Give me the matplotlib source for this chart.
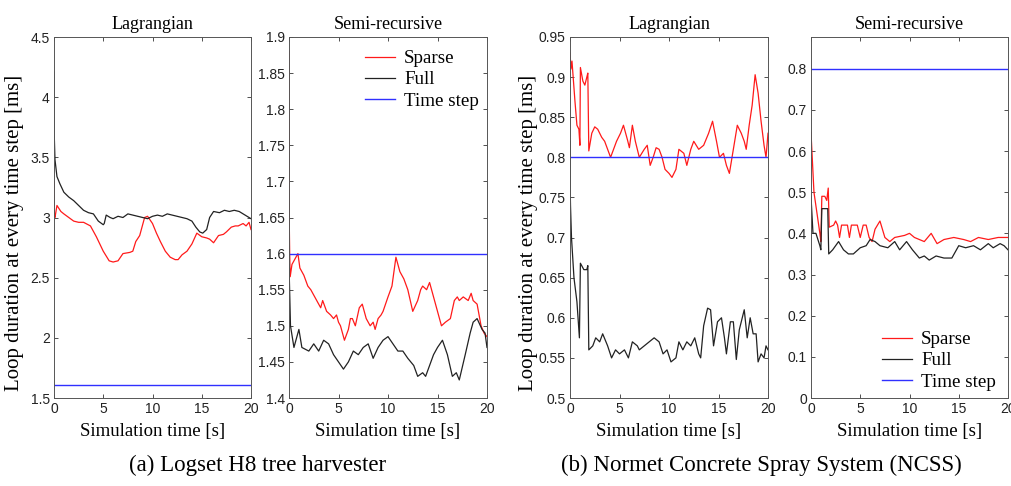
import matplotlib
matplotlib.use("Agg")
import matplotlib.pyplot as plt
import numpy as np

# ---------------- data ----------------
# (a) Logset - Lagrangian
a_lag_full_t = [0, 0.02, 0.1, 0.3, 0.6, 1.0, 1.5, 2.0, 2.5, 3.0, 3.5, 4.0, 4.5, 5.0, 5.1, 5.3, 5.7, 6.0, 6.5,
                7.0, 7.5, 8.0, 8.5, 9.0, 9.5, 10.0, 10.5, 11.0, 11.5, 12.0, 12.5, 13.0, 13.5, 14.0, 14.4, 14.8,
                15.1, 15.5, 15.8, 16.2, 16.8, 17.3, 17.8, 18.3, 18.8, 19.2, 19.6, 20.0]
a_lag_full_y = [4.21, 3.7, 3.48, 3.34, 3.28, 3.21, 3.17, 3.14, 3.10, 3.06, 3.04, 3.03, 2.97, 2.94, 2.95, 3.02,
                3.00, 2.99, 3.01, 3.00, 3.03, 3.02, 3.01, 3.00, 2.99, 3.01, 3.02, 3.01, 3.03, 3.02, 3.01,
                3.00, 2.99, 2.97, 2.92, 2.88, 2.87, 2.90, 3.00, 3.05, 3.04, 3.06, 3.05, 3.06, 3.05, 3.03, 3.01, 2.99]
a_lag_sparse_t = [0, 0.03, 0.1, 0.3, 0.7, 1.0, 1.5, 2.0, 2.5, 3.0, 3.7, 4.3, 5.0, 5.6, 6.0, 6.5, 7.0, 7.7,
                  8.0, 8.3, 8.7, 9.2, 9.5, 10.0, 10.4, 10.8, 11.3, 11.8, 12.3, 12.6, 13.0, 13.5, 14.0, 14.5,
                  15.0, 15.5, 15.8, 16.2, 16.7, 17.2, 17.5, 18.0, 18.4, 18.7, 19.2, 19.5, 19.8, 20.0]
a_lag_sparse_y = [3.30, 3.02, 3.00, 3.10, 3.05, 3.03, 3.00, 2.97, 2.96, 2.96, 2.93, 2.84, 2.72, 2.64, 2.63,
                  2.64, 2.70, 2.71, 2.72, 2.80, 2.85, 3.00, 3.01, 2.95, 2.87, 2.80, 2.72, 2.67, 2.65, 2.65,
                  2.69, 2.72, 2.78, 2.87, 2.84, 2.83, 2.82, 2.79, 2.85, 2.86, 2.88, 2.92, 2.93, 2.93, 2.95,
                  2.93, 2.96, 2.90]
a_lag_step = 1.61

# (a) Logset - Semi-recursive
a_semi_sparse_t = [0, 0.03, 0.07, 0.12, 0.3, 0.5, 0.9, 1.1, 1.5, 1.9, 2.2, 2.6, 3.0, 3.2, 3.4, 3.8, 4.2,
                   4.5, 4.8, 5.0, 5.2, 5.6, 6.0, 6.2, 6.4, 6.7, 7.1, 7.4, 7.8, 8.2, 8.5, 8.7, 9.0, 9.3, 9.5,
                   10.0, 10.4, 10.8, 11.2, 11.6, 12.0, 12.5, 13.0, 13.3, 13.5, 13.9, 14.2, 14.6, 15.0, 15.4,
                   15.8, 16.3, 16.7, 17.0, 17.2, 17.6, 18.1, 18.4, 18.6, 19.0, 19.4, 19.7, 20.0]
a_semi_sparse_y = [1.88, 1.64, 1.60, 1.568, 1.585, 1.59, 1.60, 1.58, 1.57, 1.555, 1.55, 1.54, 1.53, 1.525,
                   1.535, 1.52, 1.515, 1.51, 1.515, 1.505, 1.50, 1.48, 1.495, 1.51, 1.51, 1.50, 1.525, 1.53,
                   1.51, 1.50, 1.505, 1.495, 1.51, 1.515, 1.52, 1.54, 1.555, 1.595, 1.575, 1.565, 1.55,
                   1.52, 1.535, 1.55, 1.555, 1.55, 1.56, 1.54, 1.52, 1.50, 1.505, 1.51, 1.535, 1.54, 1.535,
                   1.54, 1.535, 1.545, 1.535, 1.53, 1.50, 1.49, 1.485]
a_semi_full_t = [0, 0.08, 0.15, 0.5, 1.0, 1.3, 2.0, 2.5, 3.0, 3.5, 4.0, 4.5, 5.0, 5.5, 6.0, 6.5, 7.0, 7.5,
                 8.0, 8.5, 9.0, 9.5, 10.0, 10.5, 11.0, 11.5, 12.0, 12.6, 13.0, 13.5, 13.8, 14.2, 14.6, 15.0,
                 15.5, 16.0, 16.5, 16.9, 17.2, 17.8, 18.3, 18.6, 19.0, 19.5, 19.8, 20.0]
a_semi_full_y = [1.585, 1.54, 1.50, 1.47, 1.495, 1.47, 1.465, 1.475, 1.465, 1.48, 1.475, 1.46, 1.45, 1.44,
                 1.45, 1.465, 1.46, 1.47, 1.475, 1.455, 1.47, 1.48, 1.485, 1.475, 1.465, 1.465, 1.455, 1.445,
                 1.43, 1.435, 1.43, 1.445, 1.46, 1.47, 1.48, 1.46, 1.43, 1.435, 1.425, 1.46, 1.49, 1.505,
                 1.51, 1.495, 1.49, 1.47]
a_semi_step = 1.60

# (b) NCSS - Lagrangian
b_lag_sparse_t = [0, 0.1, 0.2, 0.5, 0.7, 0.9, 1.0, 1.05, 1.3, 1.5, 1.7, 1.8, 1.9, 2.2, 2.5, 2.8, 3.2, 3.5,
                  3.8, 4.1, 4.4, 4.7, 5.1, 5.4, 5.8, 6.0, 6.3, 6.6, 7.0, 7.5, 7.8, 8.1, 8.4, 8.7, 9.0, 9.3,
                  9.6, 10.0, 10.3, 10.7, 11.0, 11.5, 11.8, 12.2, 12.5, 13.0, 13.5, 14.0, 14.4, 14.8, 15.1,
                  15.5, 15.8, 16.1, 16.5, 16.9, 17.3, 17.6, 17.8, 18.1, 18.4, 18.7, 19.0, 19.3, 19.6, 19.8,
                  20.0]
b_lag_sparse_y = [0.93, 0.91, 0.92, 0.87, 0.84, 0.835, 0.815, 0.912, 0.895, 0.89, 0.90, 0.905, 0.808,
                  0.83, 0.838, 0.835, 0.825, 0.82, 0.81, 0.80, 0.81, 0.82, 0.83, 0.84, 0.822, 0.812, 0.84,
                  0.82, 0.80, 0.81, 0.815, 0.79, 0.80, 0.812, 0.81, 0.80, 0.785, 0.78, 0.775, 0.785, 0.81,
                  0.805, 0.79, 0.81, 0.82, 0.81, 0.815, 0.83, 0.845, 0.82, 0.80, 0.805, 0.79, 0.78, 0.81,
                  0.84, 0.83, 0.82, 0.81, 0.84, 0.865, 0.903, 0.88, 0.845, 0.815, 0.80, 0.83]
b_lag_full_t = [0, 0.02, 0.05, 0.15, 0.4, 0.7, 0.95, 1.05, 1.4, 1.7, 1.8, 1.9, 2.3, 2.6, 3.0, 3.3, 3.8,
                4.2, 4.6, 5.0, 5.5, 5.9, 6.3, 6.8, 7.0, 7.5, 8.0, 8.5, 9.0, 9.4, 9.8, 10.2, 10.7, 11.0, 11.4,
                11.8, 12.2, 12.6, 13.0, 13.2, 13.5, 13.9, 14.2, 14.5, 14.9, 15.3, 15.6, 15.8, 16.2, 16.5,
                16.8, 17.1, 17.4, 17.6, 17.9, 18.2, 18.5, 18.8, 19.0, 19.3, 19.6, 19.8, 20.0]
b_lag_full_y = [0.82, 0.76, 0.74, 0.70, 0.65, 0.62, 0.575, 0.668, 0.66, 0.66, 0.665, 0.56, 0.565, 0.575,
                0.57, 0.58, 0.565, 0.55, 0.56, 0.555, 0.56, 0.55, 0.57, 0.565, 0.56, 0.565, 0.57, 0.575,
                0.57, 0.555, 0.56, 0.545, 0.55, 0.57, 0.56, 0.57, 0.565, 0.575, 0.555, 0.55, 0.59, 0.612,
                0.61, 0.565, 0.595, 0.60, 0.575, 0.555, 0.595, 0.595, 0.548, 0.585, 0.60, 0.61, 0.575, 0.60,
                0.58, 0.58, 0.545, 0.555, 0.55, 0.565, 0.56]
b_lag_step = 0.80

# (b) NCSS - Semi-recursive
b_semi_sparse_t = [0, 0.3, 0.6, 0.9, 1.0, 1.1, 1.4, 1.6, 1.75, 1.85, 2.3, 2.5, 2.7, 2.9, 3.1, 3.7, 3.9, 4.1,
                   4.7, 5.0, 5.3, 5.6, 5.9, 6.2, 6.5, 7.0, 7.5, 8.0, 8.5, 9.5, 10.0, 10.5, 11.0, 11.5, 12.2,
                   12.8, 13.5, 14.5, 15.5, 16.2, 17.0, 18.0, 19.0, 20.0]
b_semi_sparse_y = [0.645, 0.50, 0.45, 0.40, 0.38, 0.49, 0.49, 0.48, 0.51, 0.415, 0.42, 0.43, 0.42, 0.39,
                   0.42, 0.42, 0.39, 0.42, 0.42, 0.39, 0.42, 0.42, 0.39, 0.38, 0.41, 0.43, 0.39, 0.38, 0.39,
                   0.395, 0.40, 0.39, 0.385, 0.38, 0.40, 0.375, 0.385, 0.39, 0.385, 0.38, 0.39, 0.385, 0.39,
                   0.39]
b_semi_full_t = [0, 0.2, 0.5, 0.9, 1.0, 1.1, 1.7, 1.8, 2.2, 2.8, 3.3, 3.8, 4.3, 5.0, 5.6, 6.0, 6.5, 7.0,
                 7.8, 8.5, 9.0, 9.7, 10.3, 11.0, 11.5, 12.0, 12.7, 13.5, 14.3, 15.0, 15.7, 16.5, 17.2, 18.0,
                 18.5, 19.2, 19.6, 20.0]
b_semi_full_y = [0.49, 0.40, 0.40, 0.37, 0.36, 0.46, 0.46, 0.35, 0.36, 0.38, 0.36, 0.35, 0.35, 0.365, 0.37,
                 0.385, 0.38, 0.37, 0.365, 0.38, 0.36, 0.38, 0.36, 0.34, 0.345, 0.335, 0.345, 0.34, 0.34,
                 0.37, 0.365, 0.37, 0.36, 0.375, 0.365, 0.375, 0.37, 0.36]
b_semi_step = 0.80

titles = ["Lagrangian", "Semi-recursive", "Lagrangian", "Semi-recursive"]
ylims = [(1.5, 4.5), (1.4, 1.9), (0.5, 0.95), (0.0, 0.877)]
yticks = [np.arange(1.5, 4.51, 0.5), np.arange(1.4, 1.901, 0.05), np.arange(0.5, 0.951, 0.05),
          np.arange(0.0, 0.81, 0.1)]
xticks = [0, 5, 10, 15, 20]
legend_labels = ["Sparse", "Full", "Time step"]
ylabel_text = "Loop duration at every time step [ms]"
xlabel_text = "Simulation time [s]"
captions = ["(a) Logset H8 tree harvester", "(b) Normet Concrete Spray System (NCSS)"]

# ---------------- figure ----------------
serif = ["Liberation Serif", "DejaVu Serif"]
sans = ["Liberation Sans", "DejaVu Sans"]

fig = plt.figure(figsize=(10.11, 4.86), dpi=100)
H = 486.0
W = 1011.0
lefts = [54, 289, 570, 811]
widths = [197, 198, 198, 197]
bottom = (H - 398) / H
height = 361 / H

series = [
    (a_lag_sparse_t, a_lag_sparse_y, a_lag_full_t, a_lag_full_y, a_lag_step),
    (a_semi_sparse_t, a_semi_sparse_y, a_semi_full_t, a_semi_full_y, a_semi_step),
    (b_lag_sparse_t, b_lag_sparse_y, b_lag_full_t, b_lag_full_y, b_lag_step),
    (b_semi_sparse_t, b_semi_sparse_y, b_semi_full_t, b_semi_full_y, b_semi_step),
]

red = "#ff1a1a"
black = "#222222"
blue = "#3030ff"

axes = []
for i in range(4):
    ax = fig.add_axes([lefts[i] / W, bottom, widths[i] / W, height])
    st, sy, ft, fy, step = series[i]
    ax.plot(st, sy, color=red, lw=0.9, label=legend_labels[0])
    ax.plot(ft, fy, color=black, lw=0.9, label=legend_labels[1])
    ax.axhline(step, color=blue, lw=1.0, label=legend_labels[2])
    ax.set_xlim(0, 20)
    ax.set_ylim(*ylims[i])
    ax.set_xticks(xticks)
    ax.set_yticks(yticks[i])
    ax.set_yticklabels([("%g" % round(v, 3)) for v in yticks[i]])
    ax.tick_params(direction="in", top=True, right=True, length=3, width=0.6,
                   labelsize=10, colors="#333333", pad=3)
    for lab in ax.get_xticklabels() + ax.get_yticklabels():
        lab.set_family(sans)
        lab.set_color("#222222")
    for s in ax.spines.values():
        s.set_linewidth(0.7)
        s.set_color("#555555")
    ax.set_title(titles[i], family=serif, fontsize=13, pad=6)
    ax.set_xlabel(xlabel_text, family=serif, fontsize=13.5, labelpad=5)
    axes.append(ax)

for ax in (axes[0], axes[2]):
    ax.set_ylabel(ylabel_text, family=serif, fontsize=15)
axes[0].yaxis.set_label_coords((24 - 54) / 197, 0.457)
axes[2].yaxis.set_label_coords((538 - 570) / 198, 0.457)

leg_kw = dict(frameon=False, prop={"family": serif, "size": 13.7}, handlelength=1.6,
              handletextpad=0.45, labelspacing=0.2, borderaxespad=0.0, borderpad=0.0)
axes[1].legend(loc="upper left", bbox_to_anchor=((365 - 289) / 198, (398 - 50) / 361), **leg_kw)
axes[3].legend(loc="upper left", bbox_to_anchor=((882 - 811) / 197, (398 - 331) / 361), **leg_kw)

fig.text(258 / W, 1 - 465 / H, captions[0], family=serif, fontsize=16.5, ha="center", va="center")
fig.text(761 / W, 1 - 465 / H, captions[1], family=serif, fontsize=16.5, ha="center", va="center")

fig.savefig("out.png", dpi=100, facecolor="white")
